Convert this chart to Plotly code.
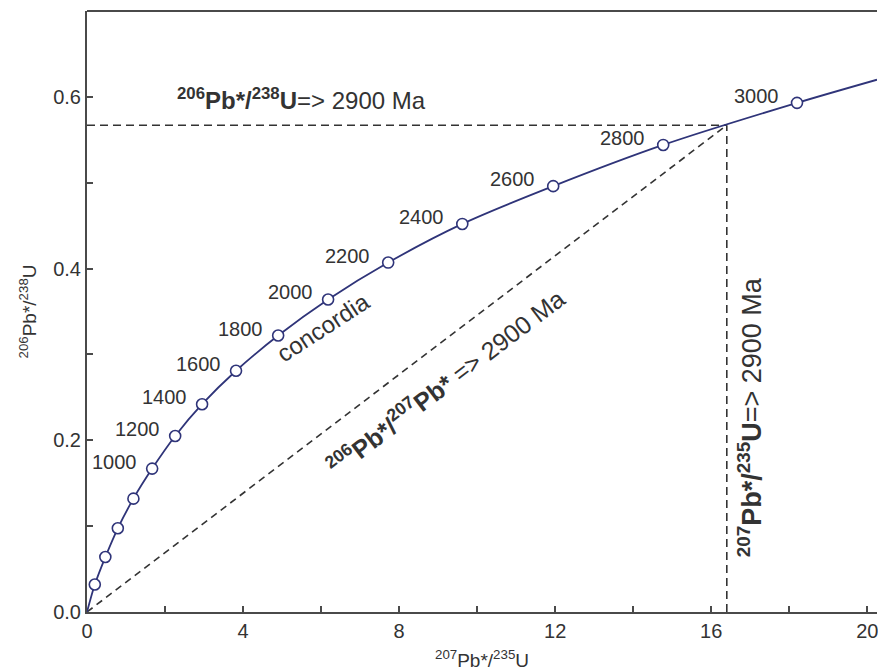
import plotly.graph_objects as go

# Concordia reference points (age in Ma) and their isotope ratios
ages = [200, 400, 600, 800, 1000, 1200, 1400, 1600, 1800, 2000,
        2200, 2400, 2600, 2800, 3000]
pb207_u235 = [0.20, 0.47, 0.79, 1.19, 1.67, 2.26, 2.95, 3.82, 4.90, 6.18,
              7.72, 9.62, 11.95, 14.77, 18.20]
pb206_u238 = [0.032, 0.064, 0.0975, 0.132, 0.167, 0.205, 0.242, 0.281, 0.322,
              0.364, 0.407, 0.452, 0.496, 0.544, 0.593]
labelled_ages = [1000, 1200, 1400, 1600, 1800, 2000, 2200, 2400, 2600, 2800, 3000]

# Curve continues from the origin through the points to the plot edge
curve_start = (0.0, 0.0)
curve_end = (20.25, 0.620)

# Sample at 2900 Ma
sample_x = 16.40
sample_y = 0.567

x_ticks = [0, 2, 4, 6, 8, 10, 12, 14, 16, 18, 20]
x_tick_text = ["0", "", "4", "", "8", "", "12", "", "16", "", "20"]
y_ticks = [0.0, 0.1, 0.2, 0.3, 0.4, 0.5, 0.6]
y_tick_text = ["0.0", "", "0.2", "", "0.4", "", "0.6"]

NAVY = "#2f3479"
INK = "#333333"
AXIS = "#4a4a4a"
FONT = "Liberation Sans, Arial, sans-serif"

fig = go.Figure()

# dashed construction lines for the 2900 Ma sample
dash = "8px,5px"
fig.add_trace(go.Scatter(x=[0, sample_x], y=[sample_y, sample_y], mode="lines",
                         line=dict(color=INK, width=1.6, dash=dash), hoverinfo="skip"))
fig.add_trace(go.Scatter(x=[sample_x, sample_x], y=[0, sample_y], mode="lines",
                         line=dict(color=INK, width=1.6, dash=dash), hoverinfo="skip"))
fig.add_trace(go.Scatter(x=[0, sample_x], y=[0, sample_y], mode="lines",
                         line=dict(color=INK, width=1.6, dash="7px,5px"), hoverinfo="skip"))

# concordia curve
fig.add_trace(go.Scatter(
    x=[curve_start[0]] + pb207_u235 + [curve_end[0]],
    y=[curve_start[1]] + pb206_u238 + [curve_end[1]],
    mode="lines", line=dict(color=NAVY, width=1.8, shape="spline", smoothing=0.8),
    hoverinfo="skip"))

# age markers
fig.add_trace(go.Scatter(
    x=pb207_u235, y=pb206_u238, mode="markers",
    marker=dict(symbol="circle", size=11, color="white",
                line=dict(color=NAVY, width=1.6)),
    text=[str(a) for a in ages], hoverinfo="text"))

annotations = []
for a, xv, yv in zip(ages, pb207_u235, pb206_u238):
    if a in labelled_ages:
        annotations.append(dict(
            x=xv, y=yv, text=str(a), showarrow=False, xanchor="right", yanchor="middle",
            xshift=-13 if a < 2200 else -16, yshift=7,
            font=dict(family=FONT, size=20, color=INK)))

annotations += [
    dict(x=6.05, y=0.331, text="concordia", textangle=-33, showarrow=False,
         font=dict(family=FONT, size=24, color=INK)),
    dict(x=9.18, y=0.268,
         text="<b><sup>206</sup>Pb*/<sup>207</sup>Pb*</b> => 2900 Ma",
         textangle=-37.3, showarrow=False,
         font=dict(family=FONT, size=25, color=INK)),
    dict(x=17.0, y=0.227,
         text="<b><sup>207</sup>Pb*/<sup>235</sup>U</b>=> 2900 Ma",
         textangle=-90, showarrow=False,
         font=dict(family=FONT, size=27, color=INK)),
    dict(x=5.51, y=0.598,
         text="<b><sup>206</sup>Pb*/<sup>238</sup>U</b>=> 2900 Ma",
         showarrow=False,
         font=dict(family=FONT, size=24, color=INK)),
]

fig.update_layout(
    width=878, height=671,
    margin=dict(l=87, r=1, t=11, b=59),
    paper_bgcolor="white", plot_bgcolor="white",
    showlegend=False,
    font=dict(family=FONT, size=20, color=INK),
    annotations=annotations,
    shapes=[dict(type="line", xref="paper", yref="paper", x0=0, x1=1, y0=1, y1=1,
                 line=dict(color=AXIS, width=2))],
)

fig.update_xaxes(
    range=[0, 20.25], tickvals=x_ticks, ticktext=x_tick_text,
    ticks="inside", ticklen=6, tickwidth=1.5, tickcolor=AXIS,
    showline=True, linecolor=AXIS, linewidth=2, showgrid=False, zeroline=False,
    ticklabeloverflow="allow",
    tickfont=dict(family=FONT, size=20, color=INK),
    title=dict(text="<sup>207</sup>Pb*/<sup>235</sup>U", standoff=14,
               font=dict(family=FONT, size=19, color=INK)),
)
fig.update_yaxes(
    range=[0, 0.70], tickvals=y_ticks, ticktext=y_tick_text,
    ticks="inside", ticklen=6, tickwidth=1.5, tickcolor=AXIS,
    showline=True, linecolor=AXIS, linewidth=2, showgrid=False, zeroline=False,
    tickfont=dict(family=FONT, size=20, color=INK),
    title=dict(text="<sup>206</sup>Pb*/<sup>238</sup>U", standoff=12,
               font=dict(family=FONT, size=19, color=INK)),
)

fig.write_html("out.html")
